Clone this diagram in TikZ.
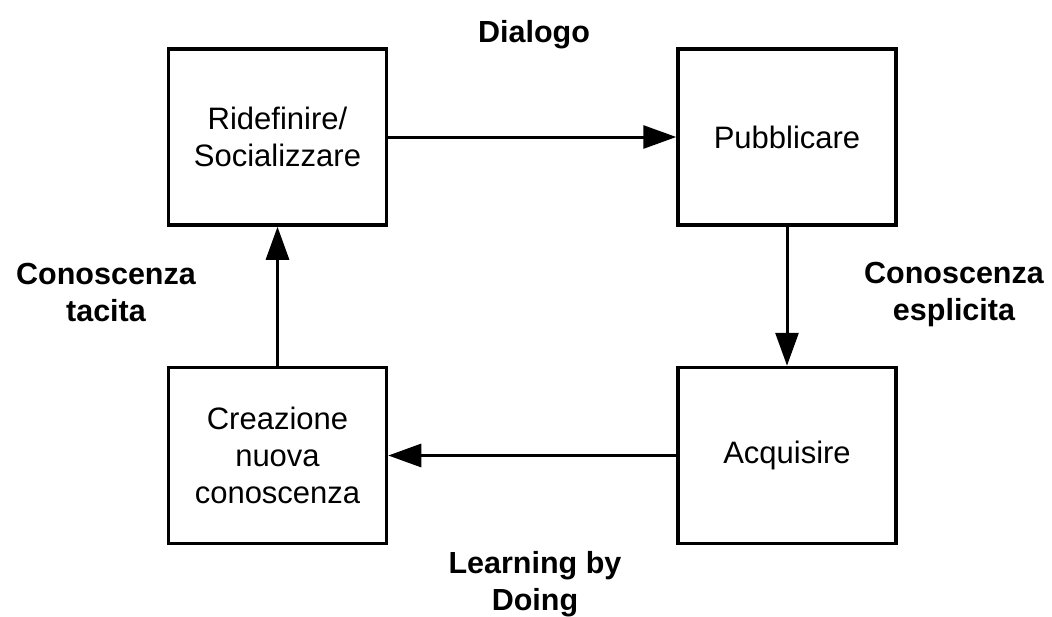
\documentclass[tikz,border=0pt]{standalone}
\usepackage{fontspec}
\setmainfont{Liberation Sans}
\usetikzlibrary{arrows.meta}
\tikzset{
  stage/.style={draw=black, line width=3.5pt, fill=white, minimum width=218pt, minimum height=176pt,
    inner sep=0pt, align=center, font=\fontsize{31}{37}\selectfont},
  lbl/.style={align=center, inner sep=0pt, font=\fontsize{30.5}{37}\selectfont\bfseries},
  flow/.style={line width=3pt, -{Triangle[length=33pt,width=23pt]}}
}
\begin{document}
\begin{tikzpicture}[x=1pt,y=-1pt]
\useasboundingbox (0,0) rectangle (1052,616);
\node[stage] (rid) at (277.5,137) {Ridefinire/\\Socializzare};
\node[stage] (pub) at (787,137) {Pubblicare};
\node[stage] (acq) at (787,455.5) {Acquisire};
\node[stage] (cre) at (277.5,455.5) {Creazione\\nuova\\conoscenza};
\draw[flow] (rid) -- (pub);
\draw[flow] (pub) -- (acq);
\draw[flow] (acq) -- (cre);
\draw[flow] (cre) -- (rid);
\node[lbl, anchor=base] (dia) at (534,42) {Dialogo};
\node[lbl, anchor=base] (esp) at (954,320) {Conoscenza\\esplicita};
\node[lbl, anchor=base] (tac) at (106,321) {Conoscenza\\tacita};
\node[lbl, anchor=base] (lbd) at (535,610) {Learning by\\Doing};
\end{tikzpicture}
\end{document}
